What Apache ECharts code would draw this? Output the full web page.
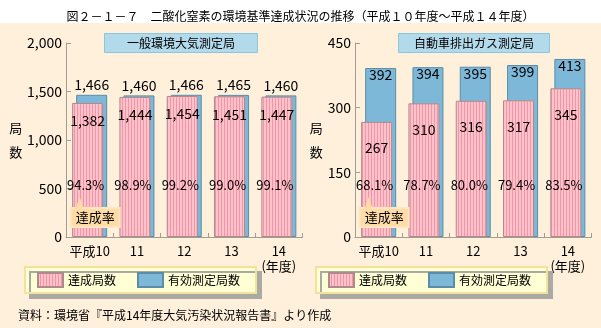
<!DOCTYPE html>
<html>
<head>
<meta charset="utf-8">
<script src="https://cdn.jsdelivr.net/npm/echarts@6/dist/echarts.min.js"></script>
<style>
  html, body { margin: 0; padding: 0; background: #fff; }
  #chart { width: 601px; height: 328px; background: linear-gradient(#ffffff 0, #ffffff 23px, #FFF0DC 23px); }
</style>
</head>
<body>
<div id="chart"></div>
<script>
// Fiscal years (category axis)
const years = ['平成10', '11', '12', '13', '14\n(年度)'];

// General ambient air monitoring stations
const ambientAchieved = [1382, 1444, 1454, 1451, 1447];
const ambientValid = [1466, 1460, 1466, 1465, 1460];
const ambientRate = [94.3, 98.9, 99.2, 99.0, 99.1];

// Roadside (vehicle exhaust) monitoring stations
const roadsideAchieved = [267, 310, 316, 317, 345];
const roadsideValid = [392, 394, 395, 399, 413];
const roadsideRate = [68.1, 78.7, 80.0, 79.4, 83.5];

// Value-axis ranges
const ambientAxis = { max: 2000, step: 500 };
const roadsideAxis = { max: 450, step: 150 };

const FONT = '"Noto Sans CJK JP", "Noto Sans CJK SC", sans-serif';
const AXIS = '#A39C92';

// Vertical pinstripe fill for the "achieved" bars
function stripeFill() {
  const c = document.createElement('canvas');
  c.width = 3; c.height = 4;
  const g = c.getContext('2d');
  g.fillStyle = '#FFC2CA';
  g.fillRect(0, 0, 3, 4);
  g.fillStyle = '#F096A6';
  g.fillRect(2, 0, 1, 4);
  return { image: c, repeat: 'repeat' };
}
const PINK = stripeFill();

const fmt = v => v.toLocaleString('en-US');

function xAxis(gi) {
  return {
    type: 'category', gridIndex: gi, data: years,
    axisLine: { show: true, lineStyle: { color: AXIS } },
    axisTick: { show: true, inside: true, length: 4, alignWithLabel: false, lineStyle: { color: AXIS } },
    axisLabel: { margin: 7, color: '#000', fontSize: 13, lineHeight: 15, fontFamily: FONT, interval: 0 }
  };
}

function yAxis(gi, range, gap) {
  return {
    type: 'value', gridIndex: gi, min: 0, max: range.max, interval: range.step,
    axisLine: { show: true, lineStyle: { color: AXIS } },
    axisTick: { show: true, inside: true, length: 5, lineStyle: { color: AXIS } },
    splitLine: { show: false },
    axisLabel: { margin: 4, color: '#000', fontSize: 14, fontFamily: FONT, formatter: fmt },
    name: '局\n数', nameLocation: 'middle', nameGap: gap, nameRotate: 0,
    nameTextStyle: { color: '#000', fontSize: 13, lineHeight: 24, fontFamily: FONT }
  };
}

function achievedSeries(gi, data, dist) {
  return {
    name: '達成局数', type: 'bar', xAxisIndex: gi, yAxisIndex: gi, data,
    barWidth: 31, barGap: '-87%', z: 3,
    itemStyle: { color: PINK, borderColor: '#AD8B8B', borderWidth: 1 },
    label: { show: true, position: 'insideTop', distance: dist, color: '#000',
             fontSize: 14, fontFamily: FONT, formatter: p => fmt(p.value) }
  };
}

function validSeries(gi, data, pos, dist) {
  return {
    name: '有効測定局数', type: 'bar', xAxisIndex: gi, yAxisIndex: gi, data,
    barWidth: 31, barGap: '-87%', z: 2,
    itemStyle: { color: '#7EB8D8', borderColor: '#5B8DA8', borderWidth: 1 },
    label: { show: true, position: pos, distance: dist, color: '#000',
             fontSize: 14, fontFamily: FONT, formatter: p => fmt(p.value) }
  };
}

// Attainment-rate labels, drawn a fixed distance above each category's baseline,
// with a "達成率" callout under the first one.
function rateSeries(gi, rates) {
  return {
    type: 'custom', xAxisIndex: gi, yAxisIndex: gi, z: 6, silent: true,
    data: rates.map((r, i) => [i, r]),
    encode: { x: 0, y: 1 },
    renderItem(params, api) {
      const base = api.coord([api.value(0), 0]);
      const cx = base[0] - 4;
      const cy = base[1] - 52;
      const children = [{
        type: 'text', x: cx, y: cy,
        style: { text: api.value(1).toFixed(1) + '%', fill: '#000',
                 font: '13px ' + FONT, align: 'center', verticalAlign: 'middle' }
      }];
      if (params.dataIndex === 0) {
        const bx = cx - 15, by = cy + 23;
        children.push(
          { type: 'rect', shape: { x: bx, y: by, width: 49, height: 19 },
            style: { fill: '#FFDBA6', stroke: '#FFE6C2', lineWidth: 2 } },
          { type: 'polygon', shape: { points: [[cx - 10, by + 1], [cx - 6, cy + 12], [cx - 2, by + 1]] },
            style: { fill: '#FFDBA6' } },
          { type: 'text', x: bx + 24.5, y: by + 9.5,
            style: { text: '達成率', fill: '#000', font: '13px ' + FONT,
                     align: 'center', verticalAlign: 'middle' } }
        );
      }
      return { type: 'group', children };
    }
  };
}

function panelTitle(text, left, pad) {
  return {
    text, left, top: 33, padding: pad,
    backgroundColor: '#B3DAEB', borderColor: '#8CC5DE', borderWidth: 1,
    textStyle: { fontSize: 12, fontWeight: 'normal', color: '#000', fontFamily: FONT }
  };
}

function legendBox(left) {
  return {
    left, top: 267, orient: 'horizontal', icon: 'rect',
    itemWidth: 25, itemHeight: 14, itemGap: 21,
    padding: [5, 16, 5, 12],
    backgroundColor: '#FFFFD6', borderColor: '#F4E29A', borderWidth: 2,
    shadowColor: '#A9AAA3', shadowBlur: 0, shadowOffsetX: 5, shadowOffsetY: 5,
    selectedMode: false,
    textStyle: { fontSize: 12, color: '#000', fontFamily: FONT },
    data: ['達成局数', '有効測定局数']
  };
}

const chart = echarts.init(document.getElementById('chart'), null, { renderer: 'canvas' });
chart.setOption({
  animation: false,
  backgroundColor: 'transparent',
  title: [
    { text: '図２－１－７　二酸化窒素の環境基準達成状況の推移（平成１０年度～平成１４年度）',
      left: 'center', top: 10, padding: 0,
      textStyle: { fontSize: 12, fontWeight: 'normal', color: '#000', fontFamily: FONT } },
    panelTitle('一般環境大気測定局', 104, [4, 23, 4, 23]),
    panelTitle('自動車排出ガス測定局', 398, [4, 16, 4, 16]),
    { text: '資料：環境省『平成14年度大気汚染状況報告書』より作成',
      left: 18, top: 309, padding: 0,
      textStyle: { fontSize: 12, fontWeight: 'normal', color: '#000', fontFamily: FONT } }
  ],
  legend: [legendBox(25), legendBox(316)],
  grid: [
    { left: 66, top: 43, width: 236.5, height: 194 },
    { left: 355, top: 43, width: 236.5, height: 194 }
  ],
  xAxis: [xAxis(0), xAxis(1)],
  yAxis: [yAxis(0, ambientAxis, 42), yAxis(1, roadsideAxis, 30)],
  series: [
    achievedSeries(0, ambientAchieved, 11),
    validSeries(0, ambientValid, 'top', 3),
    rateSeries(0, ambientRate),
    achievedSeries(1, roadsideAchieved, 19),
    validSeries(1, roadsideValid, 'insideTop', 0),
    rateSeries(1, roadsideRate)
  ]
});
</script>
</body>
</html>
